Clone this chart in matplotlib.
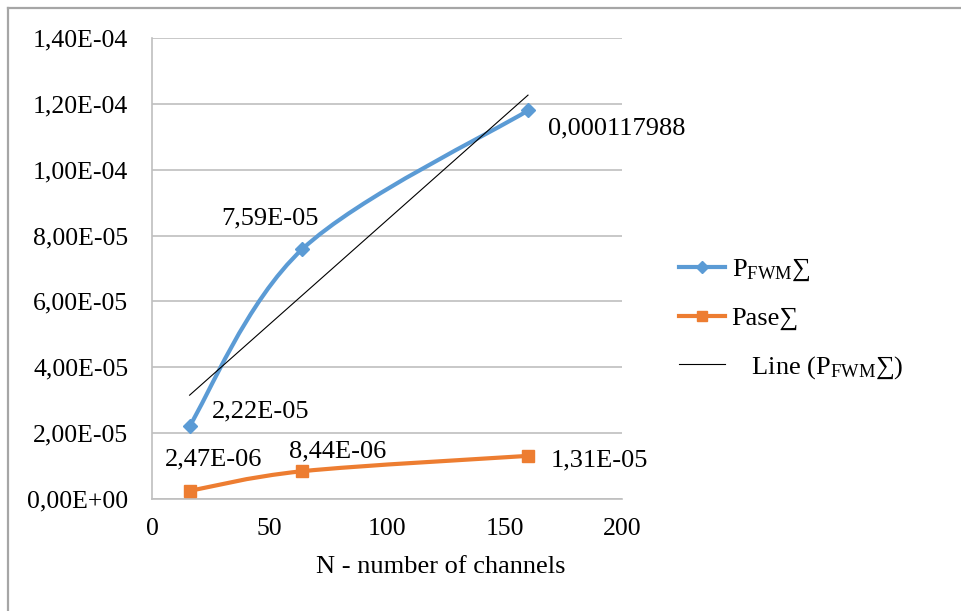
import numpy as np
import matplotlib
matplotlib.use("Agg")
import matplotlib.pyplot as plt
from matplotlib.path import Path
from matplotlib.patches import PathPatch
from matplotlib.lines import Line2D
from matplotlib.ticker import FuncFormatter, MultipleLocator

# ---- data ----
channels = [16, 64, 160]
p_fwm = [2.22e-5, 7.59e-5, 1.17988e-4]
p_ase = [2.47e-6, 8.44e-6, 1.31e-5]
fwm_labels = ["2,22E-05", "7,59E-05", "0,000117988"]
ase_labels = ["2,47E-06", "8,44E-06", "1,31E-05"]
x_ticks = [0, 50, 100, 150, 200]
x_label = "N - number of channels"
legend_labels = [r"P$_{\mathrm{FWM}}$∑", "Pase∑", r"   Line (P$_{\mathrm{FWM}}$∑)"]

BLUE = "#5B9BD5"
ORANGE = "#ED7D31"
GRID = "#BFBFBF"

plt.rcParams['font.family'] = ['Liberation Serif', 'DejaVu Serif']
plt.rcParams['mathtext.fontset'] = 'custom'
plt.rcParams['mathtext.rm'] = 'Liberation Serif'
plt.rcParams['mathtext.it'] = 'Liberation Serif'
plt.rcParams['mathtext.bf'] = 'Liberation Serif'

FS = 19
TFS = 18.5

fig = plt.figure(figsize=(9.61, 6.11), dpi=100)
ax = fig.add_axes([152/961, 1-499/611, (622-152)/961, (499-38)/611])

# outer chart frame
fig.add_artist(Line2D([8/961, 8/961], [0, 1-8/611], transform=fig.transFigure, color="#A6A6A6", lw=1.6))
fig.add_artist(Line2D([8/961, 1], [1-8/611, 1-8/611], transform=fig.transFigure, color="#A6A6A6", lw=1.6))


def smooth_path(xs, ys):
    pts = np.column_stack([xs, ys]).astype(float)
    n = len(pts)
    verts = [pts[0]]
    codes = [Path.MOVETO]
    for i in range(n - 1):
        p0 = pts[i - 1] if i > 0 else pts[i]
        p1 = pts[i]
        p2 = pts[i + 1]
        p3 = pts[i + 2] if i + 2 < n else pts[i + 1]
        c1 = p1 + (p2 - p0) / 6.0
        c2 = p2 - (p3 - p1) / 6.0
        verts += [c1, c2, p2]
        codes += [Path.CURVE4] * 3
    return Path(verts, codes)


ax.add_patch(PathPatch(smooth_path(channels, p_fwm), fill=False, edgecolor=BLUE, lw=3.0,
                       capstyle='round', joinstyle='round', zorder=3))
ax.add_patch(PathPatch(smooth_path(channels, p_ase), fill=False, edgecolor=ORANGE, lw=3.0,
                       capstyle='round', joinstyle='round', zorder=3))
ax.plot(channels, p_fwm, linestyle='none', marker='D', markersize=7, color=BLUE, zorder=4)
ax.plot(channels, p_ase, linestyle='none', marker='s', markersize=8, color=ORANGE, zorder=4)

# linear trendline
k, b = np.polyfit(channels, p_fwm, 1)
xt = np.array([channels[0], channels[-1]])
ax.plot(xt, k * xt + b, color='black', lw=0.8, zorder=5)

# data labels
fwm_off = [(22, 14), (-32, 31), (20, -18)]
fwm_ha = ['left', 'center', 'left']
for xv, yv, t, off, ha in zip(channels, p_fwm, fwm_labels, fwm_off, fwm_ha):
    ax.annotate(t, (xv, yv), xytext=off, textcoords='offset pixels', ha=ha, va='center',
                fontsize=FS, zorder=6)
ase_off = [(24, 31), (35, 20), (23, -5)]
ase_ha = ['center', 'center', 'left']
for xv, yv, t, off, ha in zip(channels, p_ase, ase_labels, ase_off, ase_ha):
    ax.annotate(t, (xv, yv), xytext=off, textcoords='offset pixels', ha=ha, va='center',
                fontsize=FS, zorder=6)

ax.set_xlim(0, 200)
ax.set_ylim(0, 1.4e-4)
ax.set_xticks(x_ticks)
ax.yaxis.set_major_locator(MultipleLocator(2e-5))
ax.yaxis.set_major_formatter(FuncFormatter(lambda v, p: f"{v:.2E}".replace('.', ',')))
ax.tick_params(axis='both', length=0, labelsize=TFS)
ax.tick_params(axis='x', pad=14)
ax.tick_params(axis='y', pad=17)
ax.grid(axis='y', color=GRID, lw=1.2)
ax.set_axisbelow(True)
for s in ['top', 'right']:
    ax.spines[s].set_visible(False)
for s in ['left', 'bottom']:
    ax.spines[s].set_color(GRID)
    ax.spines[s].set_linewidth(1.2)

fig.text(441/961, 1-567/611, x_label, ha='center', va='center', fontsize=FS)

handles = [
    Line2D([], [], color=BLUE, lw=3.0, marker='D', markersize=6),
    Line2D([], [], color=ORANGE, lw=3.0, marker='s', markersize=7),
    Line2D([], [], color='black', lw=0.8),
]
leg = fig.legend(handles, legend_labels, loc='upper left', bbox_to_anchor=(655/961, 1-233/611),
                 frameon=False, fontsize=FS, handlelength=1.75, handletextpad=0.25, labelspacing=0.9)

fig.savefig("out.png", dpi=100)
